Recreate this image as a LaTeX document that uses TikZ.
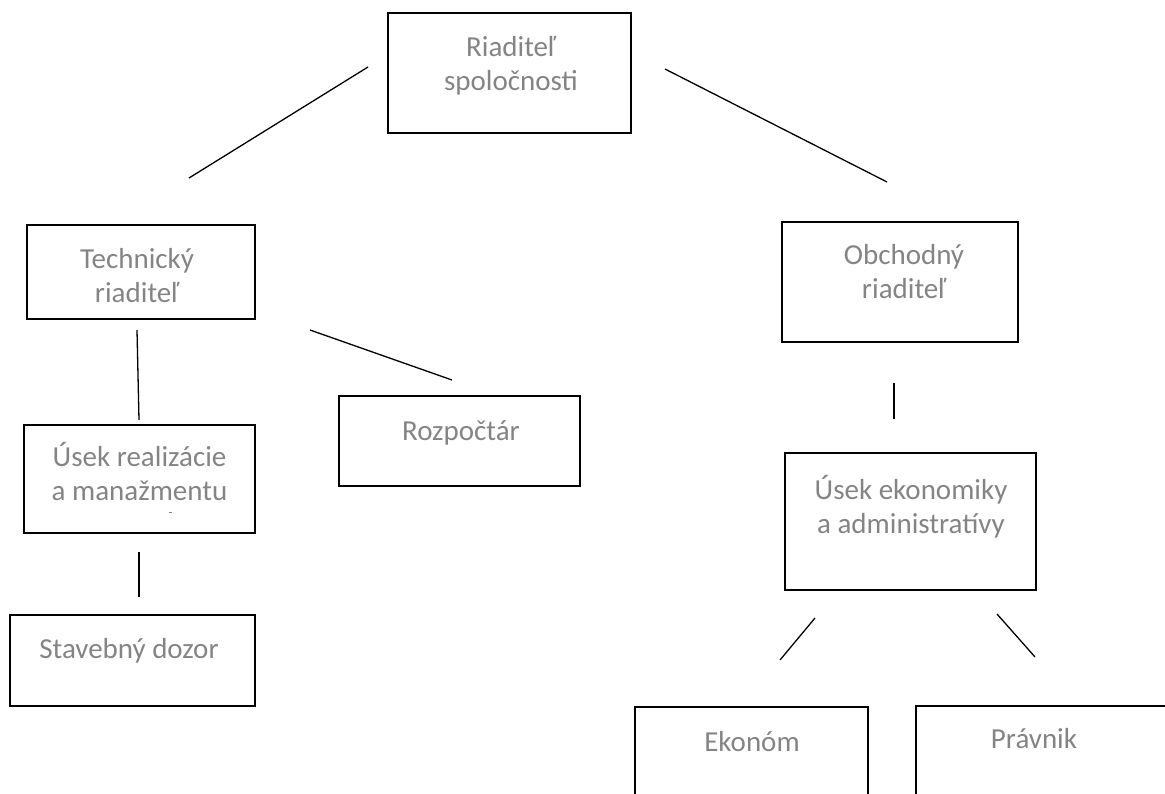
\documentclass[tikz,border=0pt]{standalone}
\usepackage{fontspec}
\setmainfont{Carlito}
\definecolor{boxtext}{RGB}{132,132,132}

\begin{document}
\begin{tikzpicture}[x=1pt, y=-1pt,
    % Define styles for boxes, texts and lines
    box/.style={rectangle, draw, line width=2.9pt, inner sep=0pt},
    txt/.style={font=\fontsize{29}{34}\selectfont, text=boxtext, align=center, anchor=base, inner sep=0pt},
    conn/.style={black, line width=1.3pt}
]
    \useasboundingbox (0,0) rectangle (1165,793);
    \clip (0,0) rectangle (1165,793);

    % Boxes
    \node[box, minimum width=243pt, minimum height=120pt] (ceo) at (509.5,73) {};
    \node[box, minimum width=228pt, minimum height=94pt] (tech) at (141,272) {};
    \node[box, minimum width=231pt, minimum height=108pt] (real) at (139.5,479) {};
    \node[box, minimum width=245pt, minimum height=91pt] (dozor) at (132.5,660.5) {};
    \node[box, minimum width=241pt, minimum height=90pt] (rozp) at (459.5,441) {};
    \node[box, minimum width=236pt, minimum height=120pt] (obch) at (900,282) {};
    \node[box, minimum width=251pt, minimum height=137pt] (ekon) at (910.5,521.5) {};
    \node[box, minimum width=233pt, minimum height=133pt] (ekonom) at (751.5,773.5) {};
    \node[box, minimum width=274pt, minimum height=134pt] (pravnik) at (1053,773) {};

    % Texts in the boxes (base = last line)
    \node[txt] (ceo_t) at (511,90) {Riaditeľ\\spoločnosti};
    \node[txt] (tech_t) at (137,302) {Technický\\riaditeľ};
    \node[txt] (real_t) at (139.5,500) {Úsek realizácie\\a manažmentu};
    \node[txt] (dozor_t) at (129,658) {Stavebný dozor};
    \node[txt] (rozp_t) at (461,440) {Rozpočtár};
    \node[txt] (obch_t) at (904,298) {Obchodný\\riaditeľ};
    \node[txt] (ekon_t) at (911,533) {Úsek ekonomiky\\a administratívy};
    \node[txt] (ekonom_t) at (752,751) {Ekonóm};
    \node[txt] (pravnik_t) at (1034,748) {Právnik};

    % small stray mark in the box
    \draw[boxtext, line width=0.8pt] (168.5,512) -- (171.5,512);

    % End points of the lines
    \coordinate (c1a) at (368,67);   \coordinate (c1b) at (189,178);
    \coordinate (c2a) at (665,69);   \coordinate (c2b) at (887,182);
    \coordinate (c3a) at (137,330);  \coordinate (c3b) at (139,420);
    \coordinate (c4a) at (310,330);  \coordinate (c4b) at (452,380);
    \coordinate (c5a) at (139,552);  \coordinate (c5b) at (139,597);
    \coordinate (c6a) at (894,383);  \coordinate (c6b) at (894,419);
    \coordinate (c7a) at (815,618);  \coordinate (c7b) at (780,660);
    \coordinate (c8a) at (997,614);  \coordinate (c8b) at (1035,657);

    % Lines between the levels
    \foreach \i in {1,...,8}
        \draw[conn] (c\i a) -- (c\i b);

\end{tikzpicture}
\end{document}
